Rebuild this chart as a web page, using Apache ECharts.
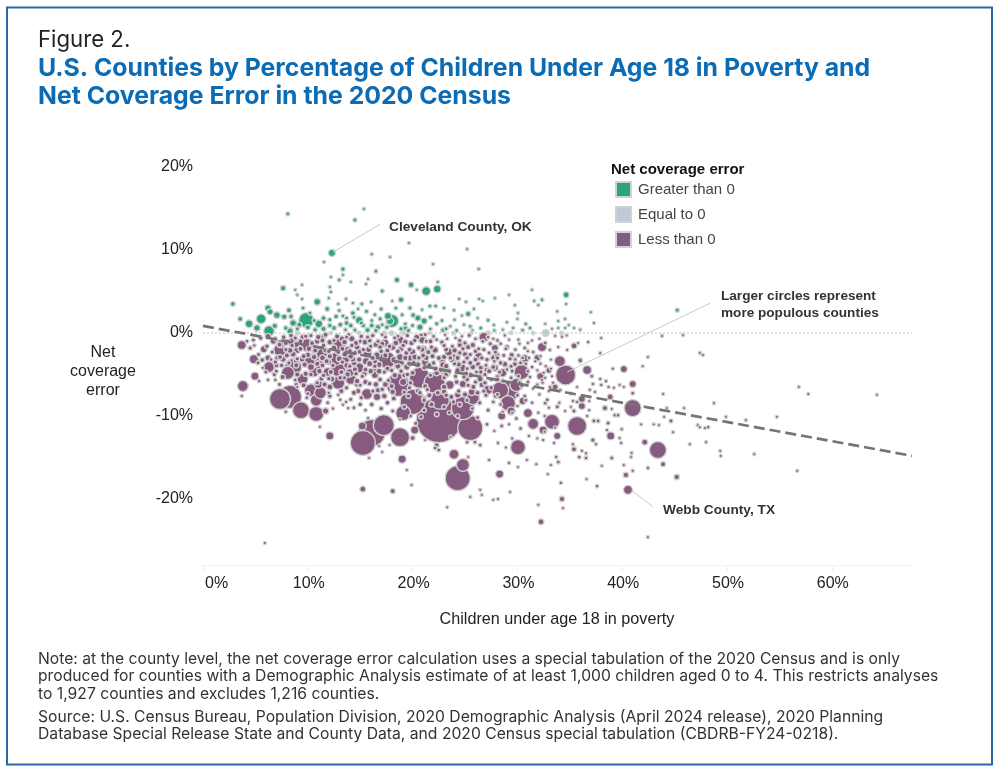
<!DOCTYPE html>
<html><head><meta charset="utf-8">
<style>html,body{margin:0;padding:0;background:#fff}#c{width:1000px;height:773px}</style>
<script src="https://cdn.jsdelivr.net/npm/echarts@6/dist/echarts.min.js"></script>
</head><body><div id="c"></div>
<script>
// [children in poverty %, net coverage error %, population in thousands]
const greaterThanZero = [[8.1,14.35,45],[14.5,13.6,50],[15.35,14.95,25],[12.3,9.65,180],[19.65,10.85,25],[25.2,10.1,25],[16.1,9.5,30],[17.85,9.15,25],[21.95,8.3,25],[11.55,8.55,25],[13.35,7.7,60],[26.3,7.7,30],[16.5,7.45,40],[12.2,6.75,25],[13.35,7,25],[13,6.4,40],[14.1,6.15,25],[15.75,6.5,25],[15.55,5.9,25],[18.5,6.4,90],[19.85,5.8,110],[22.4,6.15,30],[7.65,5.4,90],[9.45,5.8,25],[8.8,5.2,25],[12.1,5.55,30],[12.2,4.95,30],[9,4.6,25],[17.1,5.05,50],[20.4,5.2,25],[21.3,5.05,300],[22.35,5.3,220],[12,4.2,25],[13.65,4.1,30],[10.9,3.75,160],[18.9,4,100],[2.85,3.5,70],[9.45,4.1,25],[18.05,3.85,25],[14.3,3.6,30],[15.15,3.5,40],[16.05,3.75,30],[24.45,4.1,25],[27.85,4.2,25],[29.2,4.6,25],[31.4,5.2,25],[31.6,3.85,30],[26.35,4.1,25],[26.7,3.85,25],[25.1,3.75,25],[32,3.35,25],[29.75,3.35,25],[34.65,4.6,120],[34.65,3.5,25],[32.35,4,40],[37,2.5,25],[45.25,2.75,50],[6.2,3,130],[6.4,2.55,130],[5.55,1.7,380],[7.05,2.15,160],[7.75,1.95,100],[3.55,1.7,70],[4.4,1.1,220],[5.15,.6,150],[6.3,.25,450],[6.85,.85,90],[9.85,1.55,980],[8.2,2.75,80],[9.55,3,40],[8.6,1.2,150],[8.3,.25,150],[11.05,1.1,220],[11.85,2.9,70],[13.35,2.05,40],[14.3,2.4,70],[14.9,1.55,200],[16.7,.7,100],[18.05,1.45,720],[17.65,2.05,180],[17.85,1.45,200],[17.55,.7,60],[19.75,3,50],[20.5,1.8,130],[21.1,1.45,130],[20.7,.7,130],[20.05,2.15,70],[22.9,.35,70],[21.65,3.25,40],[22.2,3.25,40],[25.3,2.3,90],[23.95,2.75,30],[25.85,2.9,30],[27.2,1.55,40],[27.75,.95,30],[30.8,1.1,40],[30.05,2.4,25],[31.2,.6,40],[30.5,.35,40],[7.9,.6,60],[9,.5,50],[10,.7,80],[10.7,.4,60],[11.5,.5,90],[12.1,1.6,50],[12.5,.6,70],[13.1,1,70],[13.6,.4,40],[14.1,.9,70],[14.5,.35,50],[15.3,.9,60],[15.7,.35,90],[16.1,1.5,40],[16.5,.3,60],[12.7,2,60],[13.7,1.8,40],[14.4,1.9,40],[15.6,2.6,50],[16.4,2.2,40],[17,2.9,40],[18.9,.5,60],[19.3,1.1,40],[19.6,.3,60],[21.7,.5,40],[22.3,1.1,50],[23.6,.8,30],[24.2,.3,40],[24.9,1,30],[25.7,.3,30],[26.5,.6,40],[28.6,.4,25],[29.6,.6,30],[32.65,1.1,25],[33.3,.5,25],[33.9,.6,25],[33.9,1.45,25],[34.55,1.7,25],[34.55,.6,25],[34.9,.95,25],[35.4,.6,25],[36,.4,25],[33.8,2.6,25],[37.3,1.2,25],
 [9.2,1,90],[8.4,2,60],[10.6,1.5,50],[10.2,2.4,40],[11.5,1.8,70],[12.1,.9,60],[13,2.7,40],[13.7,1.2,70],[15.1,1.2,50],[16.1,.9,70],[16.9,1.7,50],[17.1,1,40],[19,2.2,40],[19.3,.6,70],[20,.9,50],[21.7,1.9,50],[22.8,1.5,40],[23.2,.5,50],[24,1.6,30],[25.5,.8,40],[26.2,1.8,25],[27.8,.3,30],[29,1.3,25],[30,1.7,25],[12.9,3.5,30],[14.8,2.9,30],[18.4,3,40],[20.9,2.8,30],[23,3,30],[24.7,2.1,25]];
const equalToZero = [[9,0,40],[12.2,0,35],[14.9,0,30],[17.3,0,50],[18,0,60],[19.1,0,40],[21.6,0,35],[23.9,0,40],[25.6,0,30],[27.2,0,50],[29.4,0,30],[31.5,0,35],[32.7,0,180],[34.2,0,30]];
const lessThanZeroLarge = [[22.5,-10.5,9700],[7.35,-7.95,2000],[8.3,-7.7,2420],[9.35,-9.3,1280],[10.8,-9.75,980],[10.8,-8.1,600],[10.3,-6.9,720],[11.2,-7.2,600],[3.8,-6.4,500],[3.7,-1.45,320],[4.85,-3.15,320],[6.3,-4.1,500],[4.95,-5.2,245],[8.6,-4.1,1280],[8.1,-4.8,720],[9.5,-5.55,500],[10.6,-4.7,400],[10.1,-3.4,600],[12.9,-4.35,980],[12.9,-6,720],[13,-1.3,720],[14.1,-5.55,500],[15.65,-7.35,500],[16.1,-12.05,3380],[15.25,-13.25,2880],[12.1,-12.4,245],[11.7,-9.4,150],[15.2,-11.2,245],[7.35,-2.05,720],[9.9,-1.45,720],[11,-2.4,720],[14.9,-4.2,400],[13.6,-3,400],[11.9,-4.7,320],[25.5,-11.45,2880],[18.8,-12.55,1620],[17.25,-11.1,2000],[20,-8.3,2880],[19.1,-9.65,980],[18.6,-6.25,2420],[22.6,-8.05,1620],[24.8,-9.05,2420],[20.7,-5.4,2000],[22.1,-6,2000],[17.55,-3.25,1280],[24.3,-17.5,2880],[24.8,-15.9,720],[30.05,-13.75,980],[23.95,-14.6,400],[19,-15.2,245],[28.3,-17,245],[26.8,-.5,400],[32.35,-1.7,320],[29.1,-7.1,2000],[28.35,-6.9,1280],[29.9,-6.25,720],[30.4,-4.7,980],[29.1,-8.45,980],[25.75,-7.85,720],[31,-9.65,320],[31.5,-10.95,500],[32.45,-11.7,245],[28.5,-10,245],[23.45,-2.3,245],[20.9,-.5,245],[18.8,-.85,245],[17.35,-1.2,245],[27.85,-1.8,180],[27.85,-4.2,180],[18.1,-19.05,80],[27.2,-6.85,320],[20.2,-11.7,245],[20,-12.65,80],[22.3,-13.5,80],[34.6,-5.05,1800],[34.05,-3.4,500],[36.65,-4.45,320],[40.15,-4.35,180],[41,-6.15,180],[41,-9.05,1280],[36.15,-8.8,180],[36.15,-7.95,180],[38.85,-7.7,125],[33.3,-10.7,980],[35.7,-11.2,1620],[33.8,-12.4,180],[38.9,-12.4,245],[43.4,-14.1,1280],[42.15,-13.15,125],[40.35,-17.1,100],[40.55,-18.9,320],[45.2,-17.35,100],[43.9,-15.8,80],[34.25,-20,100],[32.25,-22.75,125],[35.4,-1.55,125],[35.4,-14,80],[15.25,-18.8,125]];
const lessThanZeroMid = [[11.35,-2.55,500],[10.7,-3.15,720],[12.6,-3.15,720],[14.2,-.7,150],[16.6,-2.65,150],[15.55,-3.4,200],[16.4,-5.05,180],[15.45,-1.1,120],[13.25,-.7,120],[12.1,-1.1,120],[11,-.5,100],[11.45,-.5,120],[11,-6.15,300],[19.1,-5.9,200],[16.6,-7.7,200],[14.7,-6.15,130],[14.8,-7,100],[12.3,-5.55,120],[12.1,-6.5,130],[18.8,-2.9,180],[19.45,-4.1,150],[18.1,-1.7,150],[19.3,-1.1,120],[20,-2.3,150],[17.1,-1.3,100],[14.7,-1.7,120],[13.55,-2.55,130],[14.3,-3.15,120],[22.15,-2.05,150],[20.9,-.85,180],[20.4,-.5,120],[24.5,-1.45,90],[25.3,-1.7,100],[25.75,-1.45,100],[25,-2.55,100],[23.75,-3.25,100],[22.8,-3.15,200],[21.2,-3.5,200],[28.05,-2.65,100],[29.45,-2.65,90],[29,-1.7,80],[28.8,-3.75,120],[29.75,-3.75,80],[26.25,-3.75,90],[24.7,-4.2,260],[22.9,-3.85,160],[27.1,-4.45,130],[25.75,-4.1,120],[25.5,-5.05,120],[26.45,-5.55,130],[24.8,-6.15,200],[23.55,-6.25,300],[26.6,-6.25,110],[25.65,-7.1,180],[24.3,-7.45,150],[5.8,-1.95,180],[6.7,-1,130],[6.2,-3,130],[8.1,-1.1,130],[9,-2.05,180],[8.6,-2.55,130],[7.65,-3.15,130],[9.45,-3.15,130],[10,-2.65,110],[10.3,-4.1,180],[4.5,-1.8,60],[4.8,-.85,50],[5.65,-3.25,70],[5.25,-3.6,50],[6,-4.7,50],[6.9,-3.5,70],[7.35,-2.9,80],
 [19.9,-3.1,300],[16.5,-4.4,300],[21,-2,250],[14,-4.8,280],[24,-3,240],[26.3,-2.8,220],[27.8,-3,200],[28.6,-4.8,280],[30.7,-3.1,260],[32.2,-5.2,200],[13.8,-2.1,260],[15.7,-2.4,300],[18.6,-3.9,260],[11.1,-3.8,300],[23.2,-4.8,300],[30.5,-8.2,200],[29.4,-9.4,260],[33,-4.5,120],[31.9,-3,160],[33.6,-6.5,120],[36,-3.3,70],[7.4,-1.3,260],[8.6,-.8,200],[6.2,-.4,120]];
const lessThanZeroBand = [[8.4,-.3,70],[9.5,-.5,90],[10.3,-.3,60],[11.7,-.2,80],[12.8,-.4,90],[13.9,-.2,50],[15.1,-.4,70],[16.2,-.3,60],[17.1,-.2,40],[18.6,-.4,50],[19.5,-.3,60],[21.2,-.2,50],[22,-.4,40],[23.1,-.2,30],[24.7,-.4,30],[25.4,-.3,50],[27.2,-.5,40],[28.8,-.3,30],
 [7.9,-1.2,100],[8.9,-1.4,130],[10.9,-1,120],[11.4,-.9,90],[13.5,-1.1,110],[14.6,-1.2,100],[15.9,-.9,80],[16.5,-1.4,120],[18.4,-1.2,120],[19.1,-1.5,70],[19.9,-1.2,100],[21.7,-1,90],[22.8,-1.1,70],[24.5,-.9,60],[25,-1.2,60],[26.7,-1,50],[27.4,-1.3,60],[28.1,-.9,40],[30.1,-.8,30],[31,-1.2,30],[32.1,-.7,30],
 [8.3,-2.1,130],[9.3,-1.9,90],[10.1,-1.9,110],[11.7,-2.1,100],[12.5,-1.8,120],[13.3,-1.9,90],[14,-2.2,100],[14.9,-2.2,130],[15.8,-2,130],[16.9,-1.7,80],[17.6,-2.1,90],[18.9,-1.9,120],[19.4,-2.4,80],[20.9,-2,110],[21.5,-2.3,90],[23.2,-2,80],[24,-2.1,110],[24.8,-1.9,60],[26,-2.2,70],[26.8,-2,60],[27.9,-2.3,60],[28.9,-1.9,50],[30.7,-1.8,40],[31.5,-2.3,40],
 [7.1,-3,100],[8,-2.7,90],[8.9,-3.4,120],[10.6,-2.9,110],[11.4,-3,130],[12.1,-2.8,100],[13,-3.1,130],[14.1,-2.8,120],[14.9,-3.2,100],[16.4,-3.4,90],[17.4,-2.7,100],[18.2,-3.2,120],[19.3,-3,100],[20.2,-2.9,130],[21.3,-3,110],[21.9,-2.8,90],[23,-2.9,100],[23.6,-3,70],[24.3,-3,90],[25.2,-3,70],[26,-3.2,80],[27.1,-3.2,70],[28.1,-3,60],[29.3,-3.1,60],[30.1,-2.7,40],[31.1,-3,35],
 [7,-3.9,80],[8.9,-3.9,100],[9.7,-3.8,110],[10.9,-3.7,90],[12,-3.5,120],[13.7,-3.9,120],[14.4,-3.6,130],[15.9,-3.7,140],[16.8,-3.8,130],[17.6,-4.3,90],[18.6,-4,120],[19.7,-3.7,100],[20.5,-3.8,130],[21.6,-3.9,110],[22.2,-4.3,90],[23.2,-4,110],[24.4,-3.8,100],[25.5,-3.6,80],[26.5,-4.2,90],[27.7,-4.1,80],[28.4,-3.6,70],[29.4,-4,60],[30.3,-3.6,50],[31.4,-4.1,40],[32.2,-3.7,30],[33.2,-4.3,30],
 [6.8,-5,60],[7.6,-5.3,90],[9,-5,90],[9.8,-4.9,100],[11.1,-4.6,110],[12.2,-4.7,90],[13.8,-5,110],[14.5,-4.4,100],[15.4,-4.9,110],[16,-4.6,110],[16.8,-4.6,120],[18.3,-5.1,110],[19.2,-5.1,80],[20,-4.8,80],[22.3,-4.8,120],[23.2,-5,90],[24.3,-4.5,100],[25.1,-4.9,90],[26.5,-4.7,70],[27.3,-4.6,90],[28.1,-5.3,80],[29.5,-4.6,50],[30.1,-5.2,50],[31,-4.6,40],[32.5,-4.8,30],[33.4,-6,30],
 [7.3,-6.2,50],[8.9,-6.2,60],[9.6,-6.3,90],[11.6,-6.2,100],[11.3,-5.5,90],[13.1,-5.4,80],[14.7,-5.8,110],[15.5,-5.9,100],[16.5,-6.2,110],[17.4,-6.2,120],[18,-6.4,90],[19.8,-6,70],[21.2,-6.4,90],[23,-6.5,110],[24.2,-5.9,80],[25.2,-5.6,80],[25.8,-6.5,90],[26.9,-6,70],[27.5,-6.6,70],[28.1,-5.6,70],[30.4,-6.4,40],[31,-5.9,40],[31.9,-6.2,30],
 [10,-7.3,50],[12.1,-7.6,70],[13.2,-7,90],[14.4,-7.2,90],[15.1,-7.8,60],[16.7,-6.9,100],[17.3,-7.6,110],[18.1,-7.1,110],[19.6,-7.6,70],[20.5,-7,90],[21.6,-7.5,100],[21.1,-7.9,80],[23,-7.1,110],[23.7,-7.7,90],[25,-7.4,100],[26.2,-7.2,80],[26.8,-7,60],[27.9,-7.6,70],[28.1,-7.4,50],[30,-7.5,50],[30.8,-8.1,40],[32.1,-7.4,30],[33,-7,30],[34.1,-6.9,30],[35.1,-7.3,25]];
const lessThanZeroSmall = [[37.9,-2.4,30],[39.1,-4.3,30],[37.9,-5.55,30],[38.45,-5.8,30],[37.1,-5.2,40],[37.2,-6.15,30],[38,-6.25,30],[38.7,-6.5,30],[36.9,-6.85,30],[37.4,-7.1,30],[39.75,-6.25,25],[40.15,-6.5,25],[39.2,-6.6,25],[41,-7.25,40],[38.35,-9.05,90],[39,-9.15,25],[37.3,-10.6,50],[37.7,-10.6,40],[38.65,-10.85,50],[39.3,-9.9,40],[39.6,-9.9,40],[39.95,-11.6,30],[38.55,-11.7,30],[39.75,-12.65,25],[39.9,-13.25,30],[37.2,-12.9,60],[37.5,-13.4,30],[36.15,-14.2,30],[36.55,-14.5,30],[36.55,-15.05,40],[35.9,-14.95,40],[39,-15.05,40],[40.9,-14.45,25],[40.85,-14.95,25],[33.7,-14.95,35],[33.9,-15.55,40],[33.2,-15.9,25],[38.05,-16,25],[40.15,-15.9,25],[41,-16.6,30],[42.45,-16.25,35],[32.9,-17,25],[36.6,-17.6,25],[34.15,-18.05,35],[37.6,-18.45,35],[33.5,-13.25,30],[32.45,-12.9,30],[35.3,-13.4,30],[33.8,-8.9,50],[32.65,-8.45,40],[32.85,-8.05,40],[35.1,-8.9,25],[35.4,-9.4,50],[36.85,-9.3,25],[36.65,-10,25],[34.55,-9.4,25],[32.35,-5.65,30],[32.65,-5.4,30],[33.3,-5.2,30],[33.1,-6.5,30],[35.7,-6.5,25],[35.7,-8.3,30],[35.3,-8.2,30],[36.85,-8.2,25],[33.9,-1.7,30],[34.75,-2.05,25],[35.8,-1.2,25],[36.75,-1.1,30],[32.65,-1.2,40],[33.1,-2.05,30],[42.45,-24.6,25],[64.3,-7.45,25],[56.85,-6.5,25],[57.75,-7.35,25],[56.7,-16.6,25],[52.6,-14.6,25],[54.75,-10.1,25],[51.8,-10.5,25],[49.9,-10.1,25],[48.75,-8.45,25],[49.35,-14.2,25],[49.4,-14.8,25],[48,-13.15,25],[46.45,-13.4,25],[45.9,-9.05,25],[43.9,-7.35,25],[42.45,-2.9,25],[41.95,-4,25],[47.4,-2.4,25],[47.7,-2.65,25],[47.2,-11.1,25],[47.4,-11.35,25],[48.2,-11.35,35],[47.9,-11.45,25],[44.85,-11.95,25],[44.65,-10.6,50],[44.25,-9.05,25],[44,-10.1,25],[43,-11,25],[43.5,-11.1,25],[41.8,-11,25],[43.8,-.35,25],[45.8,-.25,25],[5.9,-25.3,25],[23.3,-21,25],[25.5,-19.75,25],[27.7,-20.1,25],[29.3,-19.15,25],[34.35,-21.1,25],[26.45,-18.9,25],[32,-20.7,25],[19.9,-18.3,25],[26.6,-19.5,25],[28.15,-20,25],[19.45,-16.5,25],[17.1,-14.35,25],[25.3,-14.95,25],[29.2,-15.65,30],[30.05,-16.15,25],[31.8,-15.8,25],[30.9,-15.3,25],[27.3,-15.3,30],[28.15,-13.25,30],[25.2,-13.15,40],[26.45,-13.5,40],[25.95,-13.15,40],[22.15,-13.85,40],[22.5,-14.1,40],[23.6,-12.5,30],[3.7,-7.6,30],[5.35,-5.8,30],[6.2,-5.65,35],[6.9,-5.65,35],[8.8,-5.65,45],[7.9,-9.5,35],[12.9,-7.45,35],[13.1,-8.05,35],[13.35,-8.65,30],[13.65,-8.3,30],[13.85,-9.05,30],[11.15,-11.3,25],[15.85,-15.05,25],[15.75,-10.25,30],[12,-7.2,35],[33.6,-.35,25],[34.25,-.45,25],[34.7,-.3,25],[38,-.6,25],[4.2,-1,40],[4.9,-1.5,35],[5.3,-2.6,50],[5.5,-.6,60],[6.1,-1.6,70],[6.6,-2.3,60],[6.9,-.7,50],[7.3,-1.4,80],[7.7,-.5,70],[7.9,-2,60],[8.2,-3.6,60],[8.5,-1.5,70],[8.8,-.6,60],[9.3,-1,80],[9.6,-2.8,90],[9,-3.1,60],[7,-4.6,50],[7.5,-3.9,70],[6.5,-3.2,40],[5.7,-4.2,30],[9.8,-.4,60],[10.4,-1.2,80],[10.7,-2.1,90],[11.5,-1.5,70],[11.8,-3.4,90],[12,-2.2,70],[12.5,-.9,60],[12.9,-2.3,80],[13.3,-3.5,70],[13.7,-.5,50],[14.2,-1.5,70],[14.5,-2.4,80],[15,-1,60],[15.3,-2,70],[15.7,-.5,50],[16,-1.6,60],[16.2,-3,90],[16.7,-1,60],[17,-2.2,70],[17.4,-.5,50],[17.8,-1.6,70],[18.3,-.6,50],[18.6,-2.2,80],[19,-3.6,70],[19.7,-2,80],[20.2,-.9,70],[20.6,-1.8,70],[21,-2.7,80],[21.3,-1,50],[21.8,-1.7,60],[22.3,-.8,40],[22.5,-3,80],[23,-1.5,60],[23.3,-.7,40],[23.8,-1.6,50],[24.1,-.6,30],[24.5,-2.4,70],[24.9,-3.5,60],[25.5,-2.6,60],[26,-.7,40],[26.3,-1.9,50],[26.6,-3,60],[27.3,-2.4,50],[27.7,-.7,30],[28.4,-1.3,40],[28.7,-2.7,50],[29.2,-.8,25],[29.8,-2,40],[30.2,-1.3,30],[30.5,-3,40],[31,-2.2,30],[31.4,-.9,25],[31.7,-3.4,30],[32.2,-2.8,30],[32.7,-4,30],[33.2,-3.2,25],[10.3,-5,70],[10.9,-6,60],[11.4,-3.9,80],[11.5,-5.1,70],[12,-5.5,60],[12.4,-3.9,70],[13.2,-4.7,80],[13.5,-5.4,60],[13.7,-6.6,60],[14,-4,70],[14.6,-4.9,70],[15,-6.3,50],[15.2,-5.2,60],[15.5,-4.4,80],[15.9,-6.1,70],[16.2,-7,60],[16.4,-4,70],[16.9,-5.6,80],[17.1,-6.8,70],[17.3,-4.7,60],[17.7,-5.7,60],[18,-4.5,70],[18.4,-3.5,60],[18.9,-4.6,70],[19.2,-7.1,60],[19.5,-5,70],[19.7,-6.6,60],[20.1,-3.6,80],[20.6,-3,70],[20.7,-7.2,70],[21.1,-4.2,70],[21.4,-6.8,60],[21.7,-5.1,60],[22,-3.6,70],[22.4,-7.2,80],[22.7,-4.5,70],[23,-5.4,60],[23.2,-7.5,70],[23.5,-4.6,70],[24,-3.7,60],[24.1,-5.2,60],[24.4,-7,70],[24.9,-5.3,60],[25.2,-4.3,50],[25.3,-6.3,60],[26,-5.9,60],[26.1,-4.7,50],[26.9,-5,60],[27,-3.9,50],[27.5,-5.6,50],[27.8,-3.4,40],[28.3,-4.7,60],[28.6,-5.8,50],[29,-4.4,40],[29.4,-5.4,50],[29.8,-3.2,40],[30.2,-5.9,30],[30.8,-3.7,40],[31.2,-5.3,35],[31.5,-6.7,30],[31.9,-4.5,30],[32.4,-6,30],[9,-6.5,30],[9.9,-7.8,40],[11.9,-8.4,40],[12.4,-9.1,35],[14.1,-8,50],[14.4,-9,40],[15,-8.6,60],[15.5,-9.3,35],[16.1,-8.6,70],[17,-9.1,60],[17.6,-8.4,70],[18.1,-9.4,50],[18.2,-7.9,80],[19.2,-8.9,70],[19.8,-10,40],[21.1,-8.1,70],[21.1,-9.3,60],[21.8,-8.6,90],[22.3,-9.8,70],[20.8,-10.1,60],[20.3,-10.9,50],[23,-8.9,70],[23.5,-9.6,50],[23.9,-8.3,60],[24.3,-10,50],[24.5,-8.6,70],[25.2,-8.1,60],[25.7,-9.1,50],[26.4,-8.4,60],[26.2,-10.2,50],[27,-7.5,60],[27.2,-9.3,50],[27.7,-8.3,40],[28.4,-8.6,40],[28.6,-9.5,30],[29.5,-9.6,30],[30,-8.8,35],[30.7,-7.6,40],[31.4,-8.4,35],[32,-9.6,30],[32.6,-10,30],[33,-9,30],[34,-8.4,30],[27.1,-11,40],[27.8,-11.8,30],[28.5,-11.2,40],[29.2,-11,30],[29.9,-10.3,40],[30.3,-11.5,40],[31.1,-12.4,30],[31.9,-12.7,25],[32.6,-11.9,30],[33.6,-11.4,30],[29.5,-12.7,30],[28.9,-13.8,25],[18.8,-10.4,25],[17.8,-13.5,25],[16.8,-13.6,25],[21.2,-12.9,25]];
const trendLine = [[0,0.85],[67.65,-14.8]];
const zeroLine = [[0,0],[67.65,0]];
const clevelandLeader = [[12.4,9.75],[16.9,13.1]];
const populousLeader = [[34.75,-4.7],[48.4,3.6]];
const webbLeader = [[40.95,-19],[42.95,-20.95]];
const xTicks = [0,10,20,30,40,50,60];
const yTicks = [-20,-10,0,10,20];
const noteLines = [
 "Note: at the county level, the net coverage error calculation uses a special tabulation of the 2020 Census and is only",
 "produced for counties with a Demographic Analysis estimate of at least 1,000 children aged 0 to 4. This restricts analyses",
 "to 1,927 counties and excludes 1,216 counties."];
const sourceLines = [
 "Source: U.S. Census Bureau, Population Division, 2020 Demographic Analysis (April 2024 release), 2020 Planning",
 "Database Special Release State and County Data, and 2020 Census special tabulation (CBDRB-FY24-0218)."];

const byPop = a => a.slice().sort((p,q)=>q[2]-p[2]);
const radius = v => 2*Math.sqrt(v[2]/20)+1;
const BODY = '"Inter","Open Sans",sans-serif', AR = '"Liberation Sans",Arial,sans-serif';
const txt = (x,y,text,font,fill,weight,size,extra) => ({type:'text',x,y,silent:true,style:Object.assign({text,fontFamily:font,fill,fontWeight:weight,fontSize:size,textVerticalAlign:'middle',textAlign:'left'},extra||{})});
const dots = (name,data,color) => ({type:'scatter',name,data:byPop(data),symbolSize:radius,itemStyle:{color,borderColor:'#d2d2d2',borderWidth:1.4,opacity:1},clip:false,animation:false,progressive:0,emphasis:{disabled:true}});
const line = (data,color,width,type,z) => ({type:'line',data,showSymbol:false,symbol:'none',silent:true,animation:false,z,lineStyle:{color,width,type},emphasis:{disabled:true}});

const chart = echarts.init(document.getElementById('c'),null,{renderer:'canvas',width:1000,height:773});
chart.setOption({
 animation:false,backgroundColor:'#fff',
 grid:{left:203,top:150.4,right:88,bottom:207.6,containLabel:false},
 legend:{orient:'vertical',left:615,top:181,padding:0,itemWidth:15,itemHeight:15,itemGap:8,icon:'rect',selectedMode:false,
  data:['Greater than 0','Equal to 0','Less than 0'],textStyle:{fontFamily:AR,fontSize:15,color:'#444',padding:[0,0,0,2]}},
 xAxis:{type:'value',min:0,max:67.65,splitLine:{show:false},
  axisLine:{show:true,onZero:false,lineStyle:{color:'#f0f0f0'}},
  axisTick:{show:true,length:6,customValues:xTicks,lineStyle:{color:'#f0f0f0'}},
  axisLabel:{customValues:xTicks,formatter:'{value}%',alignMinLabel:'left',margin:10,padding:[0,0,0,2],fontFamily:AR,fontSize:16,color:'#222'}},
 yAxis:{type:'value',min:-28,max:22,splitLine:{show:false},axisLine:{show:false},axisTick:{show:false},
  axisLabel:{customValues:yTicks,formatter:'{value}%',margin:10,padding:[6,0,0,0],fontFamily:AR,fontSize:16,color:'#222'}},
 series:[
  line(zeroLine,'#bdbdbd',1,[2,2],1),
  dots('Greater than 0',greaterThanZero,'#2ba37b'),
  dots('Equal to 0',equalToZero,'#bccbd9'),
  dots('Less than 0',lessThanZeroLarge.concat(lessThanZeroMid,lessThanZeroBand,lessThanZeroSmall),'#875a7f'),
  line(clevelandLeader,'#c9c9c9',1,'solid',6),
  line(populousLeader,'#c9c9c9',1,'solid',6),
  line(webbLeader,'#c9c9c9',1,'solid',6),
  line(trendLine,'#757575',2.7,[11,5],7)
 ],
 graphic:[
  {type:'rect',shape:{x:7,y:7.5,width:985,height:757},silent:true,style:{fill:'none',stroke:'#2a66a8',lineWidth:2}},
  txt(38,40,'Figure 2.',BODY,'#222','normal',22.2),
  txt(38,68.5,'U.S. Counties by Percentage of Children Under Age 18 in Poverty and',BODY,'#0b6cb5','bold',24.8),
  txt(38,96.5,'Net Coverage Error in the 2020 Census',BODY,'#0b6cb5','bold',24.8),
  txt(611,170,'Net coverage error',AR,'#111','bold',15),
  txt(389,227,'Cleveland County, OK',AR,'#333','bold',13.7),
  txt(721,296,'Larger circles represent',AR,'#333','bold',13.6),
  txt(721,313,'more populous counties',AR,'#333','bold',13.6),
  txt(663,510,'Webb County, TX',AR,'#333','bold',13.7),
  txt(103,353,'Net',AR,'#222','normal',16,{textAlign:'center'}),
  txt(103,372,'coverage',AR,'#222','normal',16,{textAlign:'center'}),
  txt(103,391,'error',AR,'#222','normal',16,{textAlign:'center'}),
  txt(557,619.5,'Children under age 18 in poverty',AR,'#222','normal',16.2,{textAlign:'center'})
 ].concat(noteLines.map((t,i)=>txt(38,659+i*17.5,t,BODY,'#333','normal',15.7)),
          sourceLines.map((t,i)=>txt(38,717+i*17,t,BODY,'#333','normal',15.7)))
});
</script></body></html>
